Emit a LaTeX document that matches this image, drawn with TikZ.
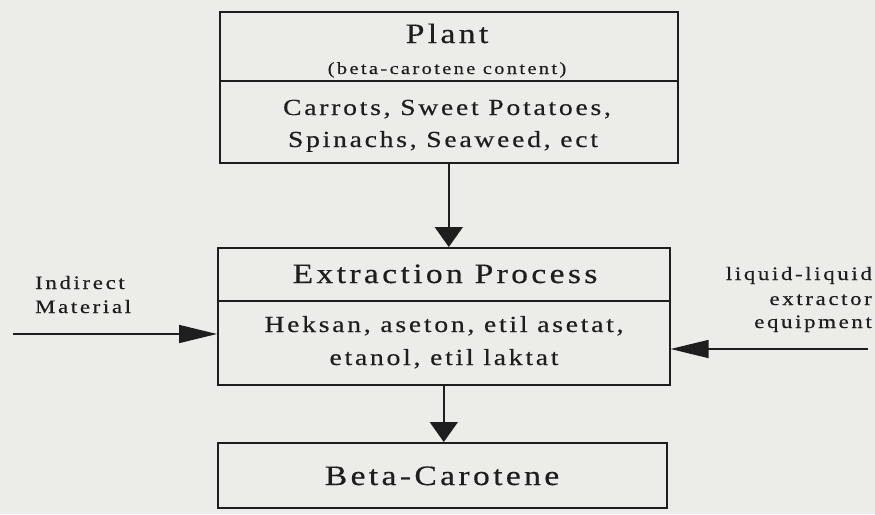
\documentclass[tikz,border=0pt]{standalone}
\usepackage{fontspec}
\setmainfont{Liberation Serif}
\newfontfamily\ttlfont[LetterSpace=12,FakeStretch=1.2,FakeBold=0.5]{Liberation Serif}
\newfontfamily\bdyfont[LetterSpace=12,FakeStretch=1.2,FakeBold=0.5]{Liberation Serif}
\newfontfamily\smlfont[LetterSpace=14,FakeStretch=1.2,FakeBold=0.5]{Liberation Serif}
\newfontfamily\sidefont[LetterSpace=14,FakeStretch=1.2,FakeBold=0.5]{Liberation Serif}
\usetikzlibrary{arrows.meta}
\definecolor{bg}{RGB}{236,236,233}
\definecolor{ink}{RGB}{30,30,30}
\tikzset{
  x=1pt, y=-1pt,
  boxpart/.style={draw=ink, line width=1.6pt, rectangle, anchor=north west, inner sep=0pt},
  ttl/.style={anchor=base, inner sep=0pt, text=ink, font=\ttlfont\fontsize{28}{32}\selectfont},
  bdy/.style={anchor=base, inner sep=0pt, text=ink, font=\bdyfont\fontsize{23}{26}\selectfont},
  sml/.style={anchor=base, inner sep=0pt, text=ink, font=\smlfont\fontsize{17}{20}\selectfont},
  side/.style={inner sep=0pt, text=ink, font=\sidefont\fontsize{19}{22}\selectfont},
  varr/.style={draw=ink, line width=1.6pt, -{Triangle[length=20pt,width=28pt]}},
  harr/.style={draw=ink, line width=1.6pt, -{Triangle[length=38pt,width=18pt]}}
}
\begin{document}
\begin{tikzpicture}
\fill[bg] (0,0) rectangle (875,514);
\useasboundingbox (0,0) rectangle (875,514);

% Plant box
\node[boxpart, minimum width=458pt, minimum height=69pt] (plantTop) at (219,11) {};
\node[boxpart, minimum width=458pt, minimum height=82pt] (plantBot) at (219,80) {};
\node[ttl] (tPlant) at (447,43) {Plant};
\node[sml] (tContent) at (447,74) {(beta-carotene content)};
\node[bdy] (tCarrots) at (447,115) {Carrots, Sweet Potatoes,};
\node[bdy] (tSpinach) at (443,147) {Spinachs, Seaweed, ect};

% Extraction box
\node[boxpart, minimum width=452pt, minimum height=53pt] (extrTop) at (217,247) {};
\node[boxpart, minimum width=452pt, minimum height=84pt] (extrBot) at (217,300) {};
\node[ttl] (tExtr) at (445,283) {Extraction Process};
\node[bdy] (tHeksan) at (444,332) {Heksan, aseton, etil asetat,};
\node[bdy] (tEtanol) at (444,365) {etanol, etil laktat};

% Beta-Carotene box
\node[boxpart, minimum width=449pt, minimum height=65pt] (beta) at (217,442) {};
\node[ttl] (tBeta) at (442,485) {Beta-Carotene};

% Side labels
\node[side, anchor=base west] (tIndirect) at (35,289) {Indirect};
\node[side, anchor=base west] (tMaterial) at (35,313) {Material};
\node[side, anchor=base east] (tLiquid) at (872,280) {liquid-liquid};
\node[side, anchor=base east] (tExtractor) at (872,305) {extractor};
\node[side, anchor=base east] (tEquip) at (872,328) {equipment};

% Connectors
\coordinate (inL) at (13,334);
\coordinate (inR) at (868,349);
\draw[varr] (plantBot.south) -- (plantBot.south |- extrTop.north);
\draw[varr] (extrBot.south) -- (extrBot.south |- beta.north);
\draw[harr] (inL) -- (inL -| extrBot.west);
\draw[harr] (inR) -- (inR -| extrBot.east);
\end{tikzpicture}
\end{document}
